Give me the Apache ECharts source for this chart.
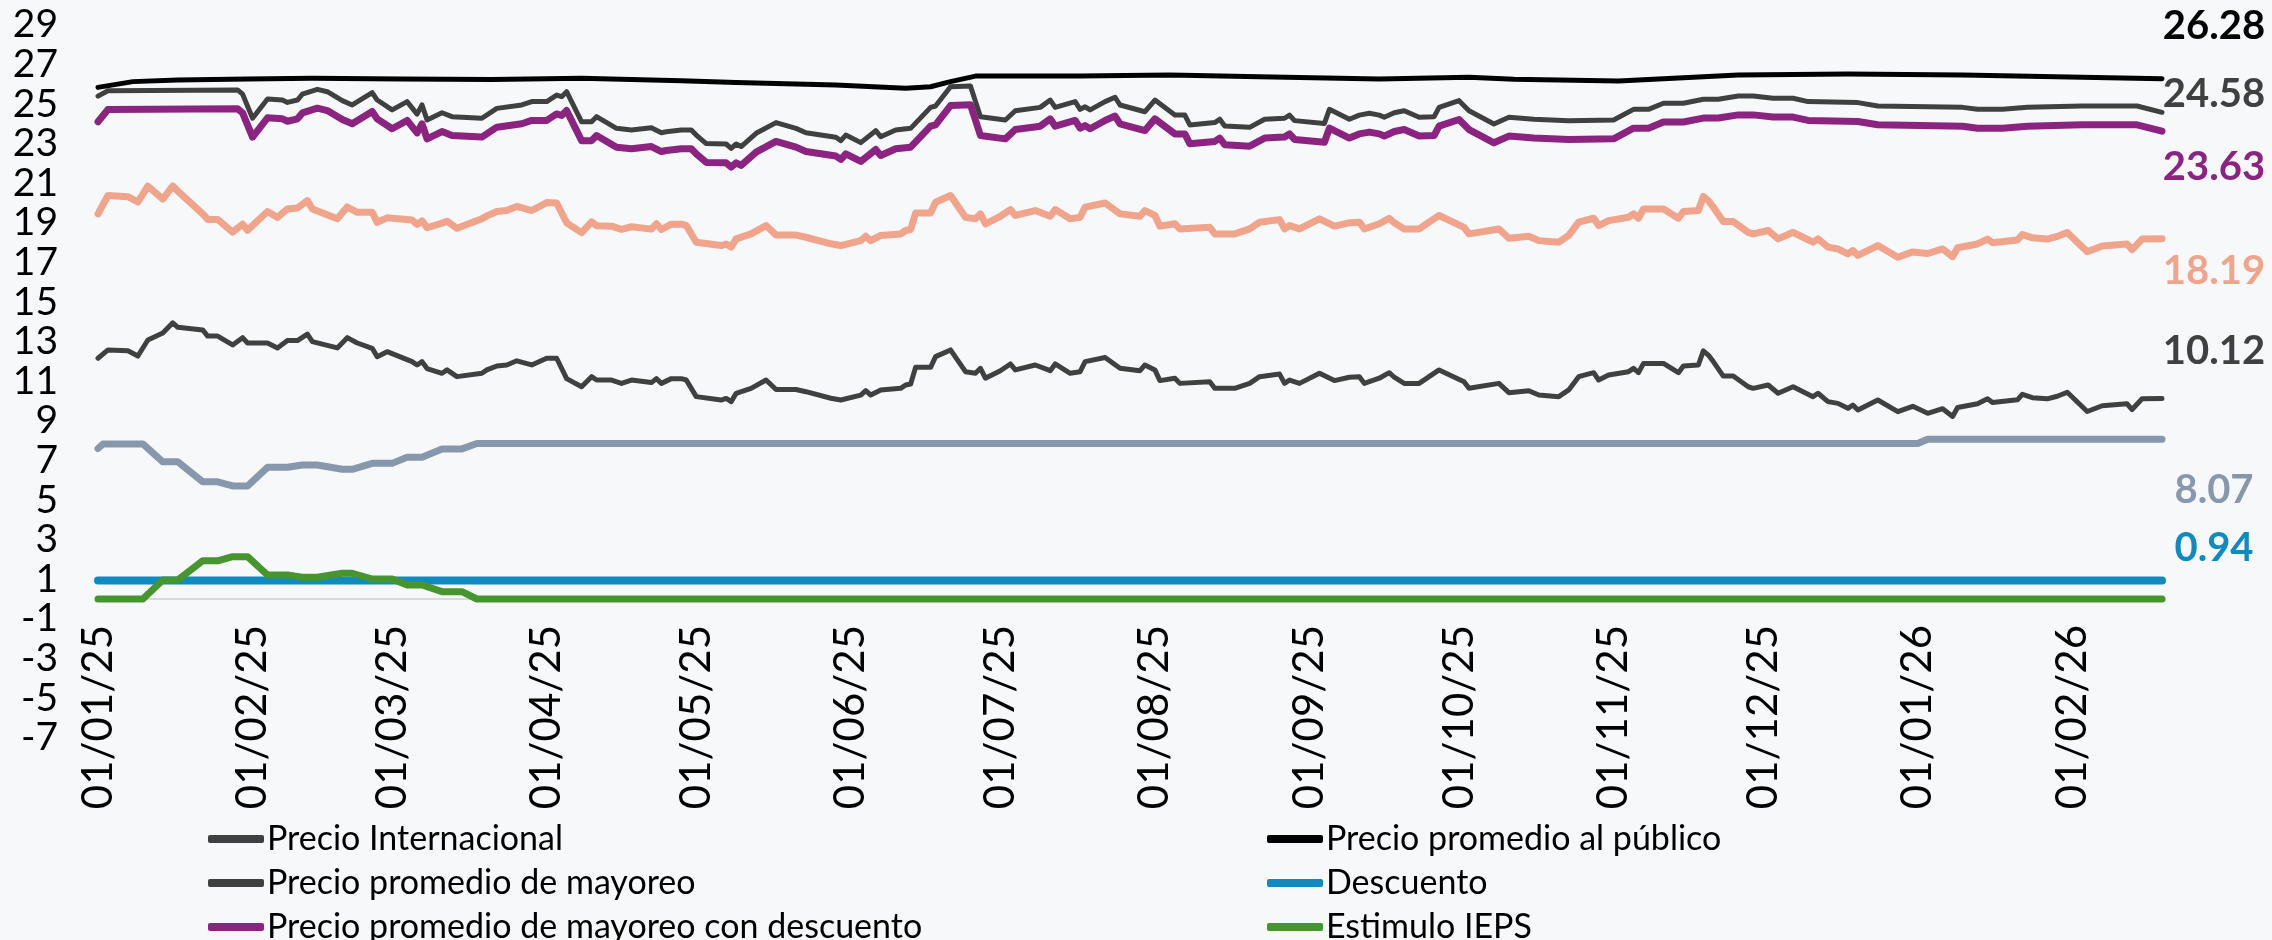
<!DOCTYPE html>
<html>
<head>
<meta charset="utf-8">
<script src="https://cdn.jsdelivr.net/npm/echarts@6/dist/echarts.min.js"></script>
<style>
html,body{margin:0;padding:0;background:#F7F8FA;}
#chart{width:2272px;height:940px;}
</style>
</head>
<body>
<div id="chart"></div>
<script>
// ---------- DATA ----------
const tickDates = ['2025-01-01','2025-02-01','2025-03-01','2025-04-01','2025-05-01','2025-06-01','2025-07-01','2025-08-01','2025-09-01','2025-10-01','2025-11-01','2025-12-01','2026-01-01','2026-02-01'];
const tickLabels = ['01/01/25','01/02/25','01/03/25','01/04/25','01/05/25','01/06/25','01/07/25','01/08/25','01/09/25','01/10/25','01/11/25','01/12/25','01/01/26','01/02/26'];
const yTicks = [-7,-5,-3,-1,1,3,5,7,9,11,13,15,17,19,21,23,25,27,29];

const intlDates = [
'2025-01-01','2025-01-03','2025-01-07','2025-01-09','2025-01-11','2025-01-14','2025-01-16','2025-01-17','2025-01-22','2025-01-23','2025-01-25','2025-01-28','2025-01-30','2025-01-31',
'2025-02-04','2025-02-06','2025-02-08','2025-02-10','2025-02-12','2025-02-13','2025-02-18','2025-02-20','2025-02-22','2025-02-25','2025-02-26','2025-02-28',
'2025-03-05','2025-03-06','2025-03-07','2025-03-08','2025-03-11','2025-03-12','2025-03-14','2025-03-19','2025-03-20','2025-03-22','2025-03-24','2025-03-26','2025-03-29',
'2025-04-01','2025-04-03','2025-04-05','2025-04-08','2025-04-10','2025-04-11','2025-04-14','2025-04-16','2025-04-18','2025-04-22','2025-04-23','2025-04-24','2025-04-26','2025-04-28','2025-04-29',
'2025-05-01','2025-05-06','2025-05-07','2025-05-08','2025-05-09','2025-05-12','2025-05-15','2025-05-17','2025-05-21','2025-05-23','2025-05-28','2025-05-30',
'2025-06-03','2025-06-04','2025-06-05','2025-06-07','2025-06-11','2025-06-12','2025-06-13','2025-06-14','2025-06-17','2025-06-18','2025-06-21','2025-06-24','2025-06-26','2025-06-27','2025-06-28',
'2025-07-01','2025-07-03','2025-07-04','2025-07-08','2025-07-11','2025-07-12','2025-07-15','2025-07-17','2025-07-18','2025-07-22','2025-07-25','2025-07-29','2025-07-30',
'2025-08-01','2025-08-02','2025-08-05','2025-08-06','2025-08-12','2025-08-13','2025-08-17','2025-08-20','2025-08-22','2025-08-26','2025-08-27','2025-08-28','2025-08-30',
'2025-09-03','2025-09-06','2025-09-09','2025-09-11','2025-09-12','2025-09-15','2025-09-17','2025-09-18','2025-09-20','2025-09-23','2025-09-27',
'2025-10-02','2025-10-03','2025-10-09','2025-10-11','2025-10-15','2025-10-17','2025-10-21','2025-10-23','2025-10-25','2025-10-28','2025-10-29','2025-10-31',
'2025-11-04','2025-11-05','2025-11-06','2025-11-07','2025-11-11','2025-11-14','2025-11-15','2025-11-18','2025-11-19','2025-11-20','2025-11-21','2025-11-23','2025-11-25','2025-11-28','2025-11-29',
'2025-12-02','2025-12-04','2025-12-07','2025-12-09','2025-12-11','2025-12-12','2025-12-14','2025-12-16','2025-12-18','2025-12-19','2025-12-20','2025-12-24','2025-12-28','2025-12-31',
'2026-01-03','2026-01-06','2026-01-08','2026-01-09','2026-01-13','2026-01-15','2026-01-16','2026-01-21','2026-01-22','2026-01-24','2026-01-27','2026-01-29','2026-01-31',
'2026-02-04','2026-02-07','2026-02-12','2026-02-13','2026-02-15','2026-02-19'];

const intlValues = [
12.16,12.58,12.54,12.27,13.08,13.43,13.95,13.72,13.59,13.28,13.28,12.83,13.2,12.93,
12.93,12.68,13.05,13.05,13.38,13.0,12.68,13.2,12.93,12.66,12.24,12.49,
11.99,11.82,11.99,11.64,11.4,11.57,11.23,11.4,11.57,11.77,11.82,12.03,11.82,
12.16,12.16,11.13,10.72,11.23,11.06,11.06,10.89,11.06,10.93,11.13,10.89,11.13,11.13,11.06,
10.22,10.05,10.13,9.97,10.39,10.64,11.06,10.58,10.58,10.47,10.14,10.05,
10.3,10.52,10.3,10.56,10.64,10.81,10.86,11.7,11.7,12.24,12.58,11.48,11.4,11.65,11.15,
11.53,11.87,11.57,11.82,11.53,11.87,11.4,11.48,11.99,12.2,11.65,11.53,11.82,
11.57,11.03,11.15,10.89,10.97,10.64,10.64,10.89,11.23,11.36,10.89,11.06,10.89,
11.4,11.03,11.2,11.23,10.89,11.15,11.43,11.2,10.89,10.89,11.57,
10.97,10.64,10.89,10.42,10.52,10.3,10.22,10.56,11.23,11.43,11.06,11.31,
11.48,11.65,11.43,11.9,11.9,11.43,11.77,11.82,12.53,12.32,11.99,11.26,11.26,10.72,10.64,
10.81,10.39,10.72,10.47,10.22,10.39,9.97,9.88,9.63,9.8,9.55,10.05,9.46,9.73,
9.38,9.61,9.22,9.67,9.86,10.11,9.92,10.06,10.34,10.17,10.11,10.24,10.44,
9.47,9.76,9.86,9.57,10.11,10.12];

const intlIepsValues = [
19.45,20.38,20.32,20.05,20.85,20.2,20.86,20.6,19.45,19.17,19.17,18.53,18.93,18.62,
19.57,19.27,19.7,19.75,20.12,19.7,19.2,19.8,19.53,19.53,19.02,19.25,
19.14,18.92,19.1,18.75,18.98,19.08,18.72,19.2,19.35,19.57,19.62,19.83,19.62,
20.02,20.0,19.0,18.5,19.05,18.85,18.83,18.67,18.8,18.68,18.95,18.66,18.93,18.93,18.86,
18.02,17.85,17.93,17.77,18.19,18.44,18.86,18.38,18.38,18.27,17.94,17.85,
18.1,18.32,18.1,18.36,18.44,18.61,18.66,19.5,19.5,20.04,20.38,19.28,19.2,19.45,18.95,
19.33,19.67,19.37,19.62,19.33,19.67,19.2,19.28,19.79,20.0,19.45,19.33,19.62,
19.37,18.83,18.95,18.69,18.77,18.44,18.44,18.69,19.03,19.16,18.69,18.86,18.69,
19.2,18.83,19.0,19.03,18.69,18.95,19.23,19.0,18.69,18.69,19.37,
18.77,18.44,18.69,18.22,18.32,18.1,18.02,18.36,19.03,19.23,18.86,19.11,
19.28,19.45,19.23,19.7,19.7,19.23,19.57,19.62,20.33,20.12,19.79,19.06,19.06,18.52,18.44,
18.61,18.19,18.52,18.27,18.02,18.19,17.77,17.68,17.43,17.6,17.35,17.85,17.26,17.53,
17.45,17.68,17.29,17.74,17.93,18.18,17.99,18.13,18.41,18.24,18.18,18.31,18.51,
17.54,17.83,17.93,17.64,18.18,18.19];

const mayDates = [
'2025-01-01','2025-01-03','2025-01-29','2025-01-30',
'2025-02-01','2025-02-04','2025-02-07','2025-02-08','2025-02-10','2025-02-11','2025-02-14','2025-02-16','2025-02-19','2025-02-21','2025-02-25','2025-02-26',
'2025-03-01','2025-03-04','2025-03-06','2025-03-07','2025-03-08','2025-03-11','2025-03-13','2025-03-19','2025-03-22','2025-03-27','2025-03-29',
'2025-04-01','2025-04-03','2025-04-04','2025-04-05','2025-04-08','2025-04-10','2025-04-11','2025-04-15','2025-04-18','2025-04-22','2025-04-24','2025-04-25','2025-04-28','2025-04-30',
'2025-05-01','2025-05-03','2025-05-07','2025-05-08','2025-05-09','2025-05-10','2025-05-13','2025-05-17','2025-05-21','2025-05-23','2025-05-29','2025-05-30','2025-05-31',
'2025-06-03','2025-06-06','2025-06-07','2025-06-10','2025-06-13','2025-06-17','2025-06-18','2025-06-21','2025-06-25','2025-06-27',
'2025-07-02','2025-07-04','2025-07-09','2025-07-11','2025-07-12','2025-07-16','2025-07-17','2025-07-18','2025-07-19','2025-07-22','2025-07-24','2025-07-25','2025-07-30',
'2025-08-01','2025-08-05','2025-08-07','2025-08-08','2025-08-13','2025-08-14','2025-08-15','2025-08-20','2025-08-23','2025-08-27','2025-08-28','2025-08-29',
'2025-09-04','2025-09-05','2025-09-09','2025-09-11','2025-09-13','2025-09-15','2025-09-16','2025-09-18','2025-09-20','2025-09-23','2025-09-26','2025-09-27',
'2025-10-01','2025-10-03','2025-10-08','2025-10-11','2025-10-16','2025-10-23',
'2025-11-01','2025-11-05','2025-11-08','2025-11-11','2025-11-15','2025-11-19','2025-11-22','2025-11-26','2025-11-29',
'2025-12-03','2025-12-07','2025-12-10','2025-12-20','2025-12-24',
'2026-01-10','2026-01-13','2026-01-18','2026-01-23',
'2026-02-03','2026-02-14','2026-02-19'];

const mayValues = [
25.4,25.67,25.71,25.5,
24.28,25.25,25.2,25.08,25.2,25.5,25.74,25.62,25.17,24.95,25.57,25.2,
24.7,25.12,24.49,24.95,24.19,24.56,24.36,24.28,24.78,24.95,25.12,
25.12,25.45,25.37,25.62,24.1,24.1,24.36,23.77,23.69,23.8,23.55,23.6,23.69,23.69,
23.43,23.0,22.98,22.76,22.98,22.85,23.52,24.06,23.77,23.55,23.32,23.15,23.43,
23.05,23.65,23.35,23.69,23.77,24.83,24.9,25.87,25.91,24.36,
24.19,24.66,24.83,25.2,24.83,25.12,24.73,24.86,24.7,25.12,25.34,24.95,24.61,
25.2,24.44,24.44,23.94,24.06,24.23,23.89,23.82,24.23,24.28,24.44,24.16,
24.02,24.73,24.23,24.44,24.53,24.44,24.33,24.56,24.66,24.33,24.36,24.83,
25.17,24.66,23.99,24.33,24.23,24.16,
24.19,24.73,24.73,25.04,25.04,25.24,25.24,25.4,25.4,
25.29,25.29,25.12,25.07,24.9,
24.83,24.73,24.73,24.83,
24.9,24.9,24.58];

const mayDescValues = [
24.1,24.72,24.76,24.55,
23.33,24.3,24.25,24.13,24.25,24.55,24.79,24.67,24.22,24.0,24.62,24.25,
23.75,24.17,23.54,24.0,23.24,23.61,23.41,23.33,23.83,24.0,24.17,
24.17,24.5,24.42,24.67,23.15,23.15,23.41,22.82,22.74,22.85,22.6,22.65,22.74,22.74,
22.48,22.05,22.03,21.81,22.03,21.9,22.57,23.11,22.82,22.6,22.37,22.2,22.48,
22.1,22.7,22.4,22.74,22.82,23.88,23.95,24.92,24.96,23.41,
23.24,23.71,23.88,24.25,23.88,24.17,23.78,23.91,23.75,24.17,24.39,24.0,23.66,
24.25,23.49,23.49,22.99,23.11,23.28,22.94,22.87,23.28,23.33,23.49,23.21,
23.07,23.78,23.28,23.49,23.58,23.49,23.38,23.61,23.71,23.38,23.41,23.88,
24.22,23.71,23.04,23.38,23.28,23.21,
23.24,23.78,23.78,24.09,24.09,24.29,24.29,24.45,24.45,
24.34,24.34,24.17,24.12,23.95,
23.88,23.78,23.78,23.88,
23.95,23.95,23.63];

const pubDates = ['2025-01-01','2025-01-08','2025-01-17','2025-01-31','2025-02-13','2025-03-03','2025-03-21','2025-04-08','2025-04-28','2025-05-09','2025-05-29','2025-06-12','2025-06-17','2025-06-21','2025-06-26','2025-07-17','2025-08-04','2025-08-22','2025-09-15','2025-10-03','2025-10-12','2025-11-02','2025-11-26','2025-12-18','2026-01-10','2026-02-03','2026-02-19'];
const pubValues = [25.84,26.13,26.21,26.26,26.3,26.26,26.24,26.3,26.18,26.08,25.96,25.79,25.87,26.13,26.41,26.41,26.46,26.38,26.26,26.35,26.25,26.16,26.46,26.52,26.46,26.35,26.28];

const iepsDates = ['2025-01-01','2025-01-02','2025-01-10','2025-01-14','2025-01-17','2025-01-22','2025-01-25','2025-01-28','2025-01-31','2025-02-04','2025-02-08','2025-02-11','2025-02-14','2025-02-19','2025-02-21','2025-02-25','2025-03-01','2025-03-04','2025-03-07','2025-03-11','2025-03-15','2025-03-18','2026-01-01','2026-01-03','2026-02-19'];
const cuotaValues = [7.6,7.83,7.83,6.93,6.93,5.92,5.92,5.71,5.71,6.65,6.65,6.77,6.77,6.55,6.55,6.85,6.85,7.16,7.16,7.58,7.58,7.85,7.85,8.07,8.07];
const estimuloValues = [0,0,0,0.96,0.96,1.93,1.93,2.14,2.14,1.21,1.21,1.1,1.1,1.3,1.3,1.01,1.01,0.71,0.71,0.37,0.37,0,0,0,0];

const descDates = ['2025-01-01','2026-02-19'];
const descValues = [0.94,0.94];

const legendLeft = ['Precio Internacional','Precio promedio de mayoreo','Precio promedio de mayoreo con descuento'];
const legendRight = ['Precio promedio al público','Descuento','Estimulo IEPS'];

// ---------- BUILD ----------
const toTime = s => { const p = s.split('-').map(Number); return Date.UTC(p[0], p[1]-1, p[2]); };
const pairs = (dates, vals) => dates.map((d, i) => [toTime(d), vals[i]]);
const tickTimes = tickDates.map(toTime);
const FONT = 'Lato';

const GRID_TOP = 24.8, GRID_BOTTOM = 202.4, H = 940;
const yMin = yTicks[0], yMax = yTicks[yTicks.length-1];
// distance from grid bottom to the zero line, so the x axis sits on zero
const zeroOffset = (0 - yMin) / (yMax - yMin) * (H - GRID_TOP - GRID_BOTTOM);

function lineSeries(name, dates, vals, color, width, label) {
  const s = {
    name, type: 'line', data: pairs(dates, vals), showSymbol: false, symbol: 'none',
    lineStyle: { color, width, cap: 'round', join: 'round' },
    itemStyle: { color }, emphasis: { disabled: true }, animation: false
  };
  if (label !== null) {
    s.endLabel = {
      show: true, formatter: p => p.value[1].toFixed(2), color,
      fontFamily: FONT, fontWeight: 'bold', fontSize: 40, align: 'center',
      distance: 5, offset: [47, label]
    };
  }
  return s;
}

function legendCfg(names, left) {
  return {
    data: names.map(n => ({ name: n, icon: 'roundRect' })),
    orient: 'vertical', left, top: 822, height: 130, padding: 0,
    itemGap: 10, itemWidth: 56, itemHeight: 8,
    selectedMode: false,
    textStyle: { fontSize: 34, lineHeight: 32, color: '#000', fontFamily: FONT, padding: [0, 0, 0, -2] }
  };
}

const chart = echarts.init(document.getElementById('chart'), null, { renderer: 'canvas' });
chart.setOption({
  backgroundColor: '#F7F8FA',
  animation: false,
  textStyle: { fontFamily: FONT },
  grid: { left: 98, right: 110, top: GRID_TOP, bottom: GRID_BOTTOM, containLabel: false, outerBoundsMode: 'none' },
  legend: [legendCfg(legendLeft, 208), legendCfg(legendRight, 1267)],
  xAxis: {
    type: 'value', min: toTime('2025-01-01'), max: toTime('2026-02-19'), scale: true,
    offset: -zeroOffset,
    axisLine: { onZero: false, lineStyle: { color: '#D9D9D9', width: 2 } },
    axisTick: { show: false }, splitLine: { show: false },
    axisLabel: {
      customValues: tickTimes, rotate: 90, margin: 26, fontSize: 42, color: '#000', fontFamily: FONT,
      padding: [14, 0, 0, 0],
      formatter: v => { const i = tickTimes.indexOf(+v); return i >= 0 ? tickLabels[i] : ''; }
    }
  },
  yAxis: {
    type: 'value', min: yMin, max: yMax, interval: 2,
    axisLine: { show: false }, axisTick: { show: false }, splitLine: { show: false },
    axisLabel: { fontSize: 39, color: '#000', margin: 40, fontFamily: FONT, showMinLabel: true, showMaxLabel: true }
  },
  series: [
    lineSeries('Descuento', descDates, descValues, '#0F8BC1', 8, -32),
    lineSeries('IEPS cuota', iepsDates, cuotaValues, '#8798AC', 7, 51),
    lineSeries('Estimulo IEPS', iepsDates, estimuloValues, '#46952E', 7, null),
    lineSeries('Precio Internacional + IEPS', intlDates, intlIepsValues, '#F0A48C', 7, 32),
    lineSeries('Precio Internacional', intlDates, intlValues, '#404040', 5, -48),
    lineSeries('Precio promedio de mayoreo con descuento', mayDates, mayDescValues, '#8B2381', 7, 36),
    lineSeries('Precio promedio de mayoreo', mayDates, mayValues, '#404040', 5, -18),
    lineSeries('Precio promedio al público', pubDates, pubValues, '#000000', 5, -53)
  ]
});
</script>
</body>
</html>
